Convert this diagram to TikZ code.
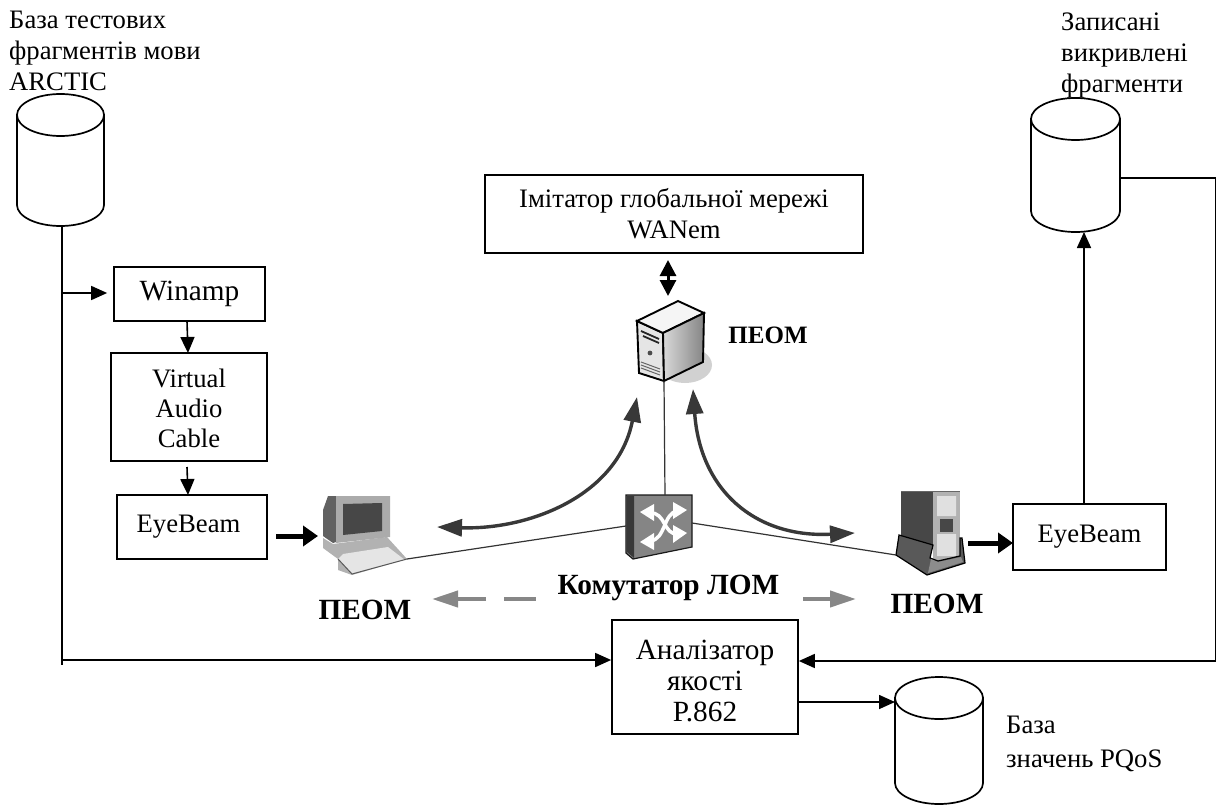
\documentclass[tikz,border=0pt]{standalone}
\usepackage{fontspec}
\setmainfont{Liberation Serif}
\usetikzlibrary{arrows.meta,calc}
\newcommand{\fa}{\fontsize{26.67}{31}\selectfont}
\newcommand{\fb}{\fontsize{29.3}{31}\selectfont}
\tikzset{
  box/.style={draw=black,line width=1.7pt,align=center,inner sep=0pt,font=\fa},
  db/.style={inner sep=0pt,outer sep=0pt},
  dbline/.style={draw=black,line width=1.7pt,fill=white},
  txt/.style={align=left,inner sep=0pt,anchor=north west,font=\fa},
  bold/.style={inner sep=0pt,font=\fb\bfseries},
  conn/.style={line width=1.6pt,-{Triangle[length=16pt,width=14pt]}},
  plain/.style={line width=1.6pt},
  thick arrow/.style={line width=5pt,-{Triangle[length=15pt,width=20pt]}},
  curve/.style={draw=black!78,line width=3.4pt,{Triangle[length=25pt,width=17pt]}-{Triangle[length=25pt,width=17pt]}},
  net/.style={line width=1.2pt,draw=black!80},
  grey arrow/.style={draw=black!47,line width=4pt,-{Triangle[length=26pt,width=16pt]}},
}
% cylinder drawn over a named, invisible node: left right top bottom
\newcommand{\dbdraw}[4]{%
  \path[dbline] (#1,#3+21) -- (#1,#4-21) arc[start angle=180,end angle=360,x radius={(#2-#1)/2*1pt},y radius=21pt] -- (#2,#3+21) -- cycle;
  \path[dbline] ({(#1+#2)/2},#3+21) ellipse[x radius={(#2-#1)/2*1pt},y radius=21pt];
}
\begin{document}
\begin{tikzpicture}[x=1pt,y=-1pt]
\useasboundingbox (0,0) rectangle (1216,808);
% labels
\node[txt] (t1) at (9,11) {База тестових\\фрагментів мови\\ARCTIC};
\node[txt] (t2) at (1061,13) {Записані\\викривлені\\фрагменти};
\node[txt,font=\fontsize{26.67}{34}\selectfont] (t3) at (1006,716) {База\\значень PQoS};
% databases
\dbdraw{17}{104}{94}{226}
\dbdraw{1031}{1120}{98}{232}
\dbdraw{895}{983}{677}{804}
\node[db,minimum width=87pt,minimum height=132pt] (d1) at (60.5,160) {};
\node[db,minimum width=89pt,minimum height=134pt] (d2) at (1075.5,165) {};
\node[db,minimum width=88pt,minimum height=127pt] (d3) at (939,740.5) {};
% boxes
\node[box,minimum width=378pt,minimum height=78pt] (wan) at (674,214) {Імітатор глобальної мережі\\WANem};
\node[box,minimum width=151pt,minimum height=54pt,font=\fb] (win) at (189.5,294) {\raisebox{5pt}{Winamp}};
\node[box,minimum width=156pt,minimum height=108pt,font=\fontsize{26.67}{30}\selectfont] (vac) at (189,407) {\rule{0pt}{22pt}Virtual\\Audio\\Cable};
\node[box,minimum width=150pt,minimum height=64pt] (eb1) at (192,527) {EyeBeam\hspace{7pt}};
\node[box,minimum width=153pt,minimum height=66pt] (eb2) at (1089.5,537) {EyeBeam};
\node[box,minimum width=186pt,minimum height=114pt,font=\fb] (ana) at (705,677) {\rule{0pt}{27pt}Аналізатор\\якості\\P.862};
% server
\coordinate (srv) at (664,381);
\fill[black!18] (685,365) ellipse[x radius=27pt,y radius=18pt];
\filldraw[draw=black,line width=1.9pt,fill=black!10] (637,321) -- (663,333) -- (664,381) -- (639,373) -- cycle;
\filldraw[draw=black,line width=1.9pt,fill=black!4] (637,321) -- (678,301) -- (704,313) -- (663,333) -- cycle;
\shade[left color=black!15,right color=black!48,draw=black,line width=1.9pt] (663,333) -- (704,313) -- (703,362) -- (664,381) -- cycle;
\draw[black!85,line width=1.8pt] (641,331) -- (659,339) (643,336) -- (659,343);
\draw[black!60,line width=1pt] (641,362) -- (660,369) (641,365) -- (660,372) (641,368) -- (660,375);
\fill[black!70] (650,353) circle[radius=2.4pt];
% switch
\coordinate (swt) at (665,495);
\filldraw[fill=black!48,draw=black!90,line width=1.2pt] (626,495) -- (692,495) -- (692,547) -- (633,559) -- (626,553) -- cycle;
\fill[black!78] (627,496) -- (634,496) -- (634,558) -- (627,552) -- cycle;
\draw[white,line width=3.5pt] (650,513) .. controls (666,512) and (663,535) .. (678,534);
\draw[white,line width=3.5pt] (650,541) .. controls (666,540) and (663,512) .. (678,511);
\fill[white] (640,512) -- (654,504) -- (654,521) -- cycle (687,510) -- (673,502) -- (673,519) -- cycle;
\fill[white] (640,542) -- (654,533) -- (654,550) -- cycle (687,533) -- (673,525) -- (673,543) -- cycle;
% PC
\coordinate (pc) at (407,559);
\fill[black!30] (323,538) -- (333,544) -- (387,537) -- (407,559) -- (352,575) -- (338,570) -- (338,559) -- (323,548) -- cycle;
\fill[black!62] (323,510) -- (328,496) -- (336,496) -- (336,542) -- (333,543) -- (323,536) -- cycle;
\fill[black!33] (336,496) -- (390,496) -- (390,537) -- (336,543) -- cycle;
\fill[black!72] (343,504) -- (382,503) -- (382,531) -- (343,535) -- cycle;
\fill[black!10] (338,559) -- (343,554) -- (388,547) -- (405,560) -- (352,574) -- cycle;
\draw[black!65,line width=1pt] (338,559) -- (352,574) -- (407,559);
% tower
\coordinate (twr) at (896,555);
\fill[black!72] (901,491) -- (933,491) -- (933,546) -- (901,536) -- cycle;
\fill[black!30] (933,491) rectangle (960,565);
\draw[black!60,line width=1pt] (901,491) -- (960,491);
\fill[black!12] (937,496) rectangle (956,516) (937,534) rectangle (956,556);
\fill[black!72] (940,519) rectangle (953,532);
\filldraw[fill=black!65,draw=black,line width=1.2pt] (896,555) -- (899,535) -- (933,545) -- (930,558) -- (938,561) -- (960,556) -- (960,538) -- (962,538) -- (965,563) -- (927,575) -- cycle;
\fill[black!45] (931,559) -- (938,562) -- (961,557) -- (963,562) -- (928,573) -- cycle;
% network lines
\draw[net] (srv) -- (swt);
\draw[net] (pc) -- (626,526);
\draw[net] (692,523) -- (twr);
% curved double arrows
\draw[curve] (437,527) .. controls (530,530) and (618,495) .. (637,397);
\draw[curve] (693,389) .. controls (700,490) and (755,538) .. (855,533);
% connectors
\coordinate (b) at (62,665);
\coordinate (j1) at (62,293);
\draw[plain] (d1.south -| b) -- (b);
\draw[conn,shorten >=6pt] (j1) -- (win.west |- j1);
\coordinate (an1) at (ana.west |- 0,660);
\draw[conn] (an1 -| b) -- (an1);
\draw[conn] (187,321) -- (188,353);
\draw[conn] (187,467) -- (188,495);
\draw[thick arrow] (276,536) -- (318,536);
\draw[thick arrow] (968,543) -- (1013,543);
\draw[conn] (eb2.north -| 1084,0) -- (1084,232);
\draw[line width=3pt,{Triangle[length=16pt,width=16pt]}-{Triangle[length=16pt,width=16pt]}] (668,260) -- (668,296);
\coordinate (e1) at (1216,178);
\coordinate (e2) at (1216,661);
\draw[plain] (d2.east |- e1) -- (e1);
\draw[plain] (e1) -- (e2);
\draw[conn] (e2) -- (ana.east |- e2);
\draw[conn] (ana.east |- 0,702) -- (d3.west |- 0,702);
% grey arrows
\draw[grey arrow] (486,599) -- (432,599);
\draw[black!47,line width=4pt] (504,599) -- (536,599);
\draw[grey arrow] (803,599) -- (856,599);
% bold labels
\node[bold,font=\fontsize{25}{30}\selectfont\bfseries] (l0) at (768,335) {ПЕОМ};
\node[bold] (l1) at (365,610) {ПЕОМ};
\node[bold,anchor=base] (l2) at (668.5,594) {Комутатор ЛОМ};
\node[bold] (l3) at (937,604) {ПЕОМ};
\end{tikzpicture}
\end{document}
